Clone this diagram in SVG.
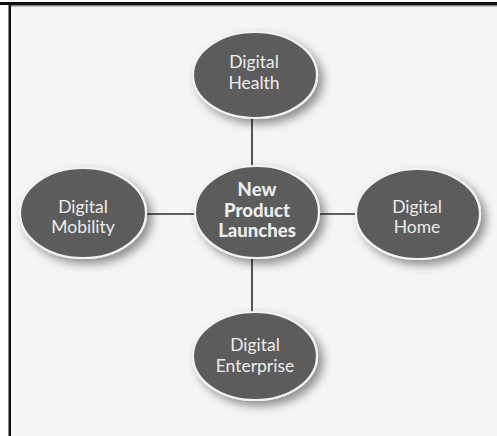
<svg xmlns="http://www.w3.org/2000/svg" width="497" height="436" viewBox="0 0 497 436">
  <defs>
    <filter id="soft" x="-30%" y="-30%" width="170%" height="170%">
      <feDropShadow dx="5" dy="5" stdDeviation="5" flood-color="#000" flood-opacity="0.42"/>
    </filter>
    <style>
      .bubble { fill: #5b5b5b; stroke: #f2f2f2; stroke-width: 2.2; filter: url(#soft); }
      .label { font-family: Lato, "Open Sans", "Liberation Sans", sans-serif; font-size: 17.5px; fill: #ececec; text-anchor: middle; }
      .hub { font-weight: 900; font-size: 18.5px; }
      .link { stroke: #2e2e2e; stroke-width: 1.6; fill: none; }
    </style>
  </defs>

  <!-- page and frame -->
  <rect x="0" y="0" width="497" height="436" fill="#ffffff"/>
  <rect x="10" y="5" width="487" height="431" fill="#f5f5f5"/>
  <rect x="0" y="2" width="497" height="3" fill="#111"/>
  <rect x="10" y="5" width="487" height="1.5" fill="#8a8a8a"/>
  <rect x="8.5" y="4" width="2.5" height="432" fill="#111"/>

  <!-- connectors -->
  <g id="connectors">
    <line class="link" x1="252" y1="118" x2="252" y2="166"/>
    <line class="link" x1="252" y1="258" x2="252" y2="313"/>
    <line class="link" x1="146" y1="214" x2="196" y2="214"/>
    <line class="link" x1="319" y1="214" x2="356" y2="214"/>
  </g>

  <g id="health">
    <ellipse class="bubble" cx="255" cy="75" rx="62" ry="43"/>
    <text class="label" x="254" y="68">Digital</text>
    <text class="label" x="254" y="89">Health</text>
  </g>

  <g id="launches">
    <ellipse class="bubble" cx="257" cy="212" rx="62" ry="46"/>
    <text class="label hub" x="257" y="196">New</text>
    <text class="label hub" x="257" y="216.5">Product</text>
    <text class="label hub" x="257" y="237">Launches</text>
  </g>

  <g id="mobility">
    <ellipse class="bubble" cx="83" cy="213" rx="63" ry="45"/>
    <text class="label" x="83" y="213">Digital</text>
    <text class="label" x="83" y="233">Mobility</text>
  </g>

  <g id="home">
    <ellipse class="bubble" cx="418" cy="214" rx="62" ry="45"/>
    <text class="label" x="417" y="213">Digital</text>
    <text class="label" x="417" y="233">Home</text>
  </g>

  <g id="enterprise">
    <ellipse class="bubble" cx="255" cy="356" rx="62" ry="44"/>
    <text class="label" x="255" y="351">Digital</text>
    <text class="label" x="255" y="372">Enterprise</text>
  </g>
</svg>
